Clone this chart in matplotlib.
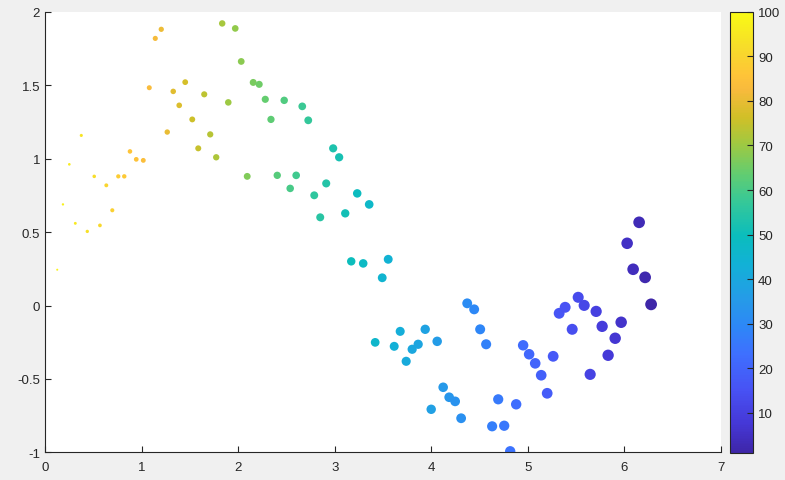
import matplotlib
matplotlib.use("Agg")
import matplotlib.pyplot as plt
from matplotlib.colors import LinearSegmentedColormap

# point positions
x = [0.127, 0.186, 0.252, 0.314, 0.376, 0.438, 0.510, 0.569, 0.635, 0.697,
     0.759, 0.821, 0.880, 0.945, 1.018, 1.080, 1.142, 1.204, 1.266, 1.328,
     1.390, 1.452, 1.525, 1.587, 1.649, 1.711, 1.773, 1.835, 1.898, 1.970,
     2.032, 2.094, 2.156, 2.218, 2.281, 2.340, 2.405, 2.477, 2.539, 2.601,
     2.664, 2.726, 2.788, 2.850, 2.912, 2.984, 3.046, 3.109, 3.171, 3.233,
     3.295, 3.357, 3.419, 3.492, 3.554, 3.616, 3.678, 3.740, 3.802, 3.864,
     3.937, 3.999, 4.061, 4.123, 4.185, 4.247, 4.309, 4.372, 4.444, 4.506,
     4.568, 4.630, 4.693, 4.755, 4.817, 4.879, 4.951, 5.013, 5.076, 5.138,
     5.200, 5.262, 5.324, 5.386, 5.459, 5.521, 5.583, 5.645, 5.707, 5.769,
     5.831, 5.904, 5.966, 6.028, 6.090, 6.152, 6.214, 6.276]
y = [0.244, 0.689, 0.962, 0.560, 1.159, 0.505, 0.880, 0.546, 0.819, 0.649,
     0.880, 0.880, 1.050, 0.996, 0.989, 1.484, 1.820, 1.882, 1.182, 1.459,
     1.364, 1.522, 1.268, 1.071, 1.439, 1.166, 1.010, 1.922, 1.384, 1.888,
     1.663, 0.880, 1.520, 1.507, 1.405, 1.268, 0.887, 1.398, 0.798, 0.887,
     1.357, 1.262, 0.751, 0.601, 0.832, 1.071, 1.010, 0.628, 0.301, 0.764,
     0.287, 0.689, -0.251, 0.189, 0.315, -0.278, -0.176, -0.380, -0.298, -0.264,
     -0.162, -0.707, -0.244, -0.557, -0.625, -0.653, -0.768, 0.015, -0.026, -0.162,
     -0.264, -0.823, -0.639, -0.819, -0.993, -0.673, -0.271, -0.332, -0.394, -0.475,
     -0.598, -0.346, -0.053, -0.012, -0.162, 0.056, 0.001, -0.469, -0.040, -0.142,
     -0.339, -0.223, -0.114, 0.424, 0.247, 0.567, 0.192, 0.008]
# colour value of each point (colorbar 1..100)
c = [98, 97, 96, 95, 94, 93, 92, 91, 90, 89, 88, 87, 86, 85, 84, 83, 82, 81,
     80, 79, 78, 77, 76, 75, 74, 73, 72, 71, 70, 69, 68, 67, 66, 65, 64, 63,
     62, 61, 60, 59, 58, 57, 56, 55, 54, 53, 52, 51, 50, 49, 48, 47, 46, 45,
     44, 43, 42, 41, 40, 39, 38, 37, 36, 35, 34, 33, 32, 31, 30, 29, 28, 27,
     26, 25, 24, 23, 22, 21, 20, 19, 18, 17, 16, 15, 14, 13, 12, 11, 10, 9,
     8, 7, 6, 5, 4, 3, 2, 1]

# parula colormap, anchors from the 64-step table (index/63)
parula_idx = [0, 4, 9, 14, 18, 22, 27, 31, 36, 40, 44, 48, 52, 54, 58, 63]
parula_rgb = [
    (0.2422, 0.1504, 0.6603), (0.2706, 0.2147, 0.8364), (0.2810, 0.3228, 0.9579),
    (0.2440, 0.4358, 0.9988), (0.1786, 0.5289, 0.9682), (0.1460, 0.6091, 0.9079),
    (0.0689, 0.6948, 0.8394), (0.0433, 0.7411, 0.7394), (0.2161, 0.7843, 0.5923),
    (0.3909, 0.8029, 0.4354), (0.6174, 0.7876, 0.2612), (0.8203, 0.7498, 0.1535),
    (0.9728, 0.7298, 0.2394), (0.9970, 0.7659, 0.2199), (0.9676, 0.8639, 0.1643),
    (0.9769, 0.9839, 0.0805)]
parula = LinearSegmentedColormap.from_list(
    "parula", [(i / 63, col) for i, col in zip(parula_idx, parula_rgb)])

sizes = [0.72 * (101 - v) for v in c]

plt.rcParams['font.family'] = ['Liberation Sans', 'DejaVu Sans']
fig = plt.figure(figsize=(7.85, 4.81), dpi=100, facecolor='#f0f0f0')
ax = fig.add_axes([0.0573, 0.0576, 0.8612, 0.9154])
cax = fig.add_axes([0.9303, 0.0561, 0.0293, 0.9175])

sc = ax.scatter(x, y, s=sizes, c=c, cmap=parula, vmin=1, vmax=100, linewidths=0)
ax.set_xlim(0, 7)
ax.set_ylim(-1, 2)
ax.set_xticks(range(0, 8))
ax.set_yticks([-1, -0.5, 0, 0.5, 1, 1.5, 2])
ax.set_yticklabels(['-1', '-0.5', '0', '0.5', '1', '1.5', '2'])
ax.spines['top'].set_visible(False)
ax.spines['right'].set_visible(False)
for s in ['left', 'bottom']:
    ax.spines[s].set_color('#262626')
    ax.spines[s].set_linewidth(0.8)
ax.tick_params(direction='in', length=4, colors='#262626', labelsize=9.5, width=0.8)
ax.tick_params(axis='x', pad=6)

cb = fig.colorbar(sc, cax=cax)
cb.set_ticks(range(10, 101, 10))
cb.outline.set_edgecolor('#262626')
cb.outline.set_linewidth(0.8)
cax.tick_params(direction='in', length=4, colors='#262626', labelsize=9.5, width=0.8)

fig.savefig("out.png", dpi=100, facecolor=fig.get_facecolor())
